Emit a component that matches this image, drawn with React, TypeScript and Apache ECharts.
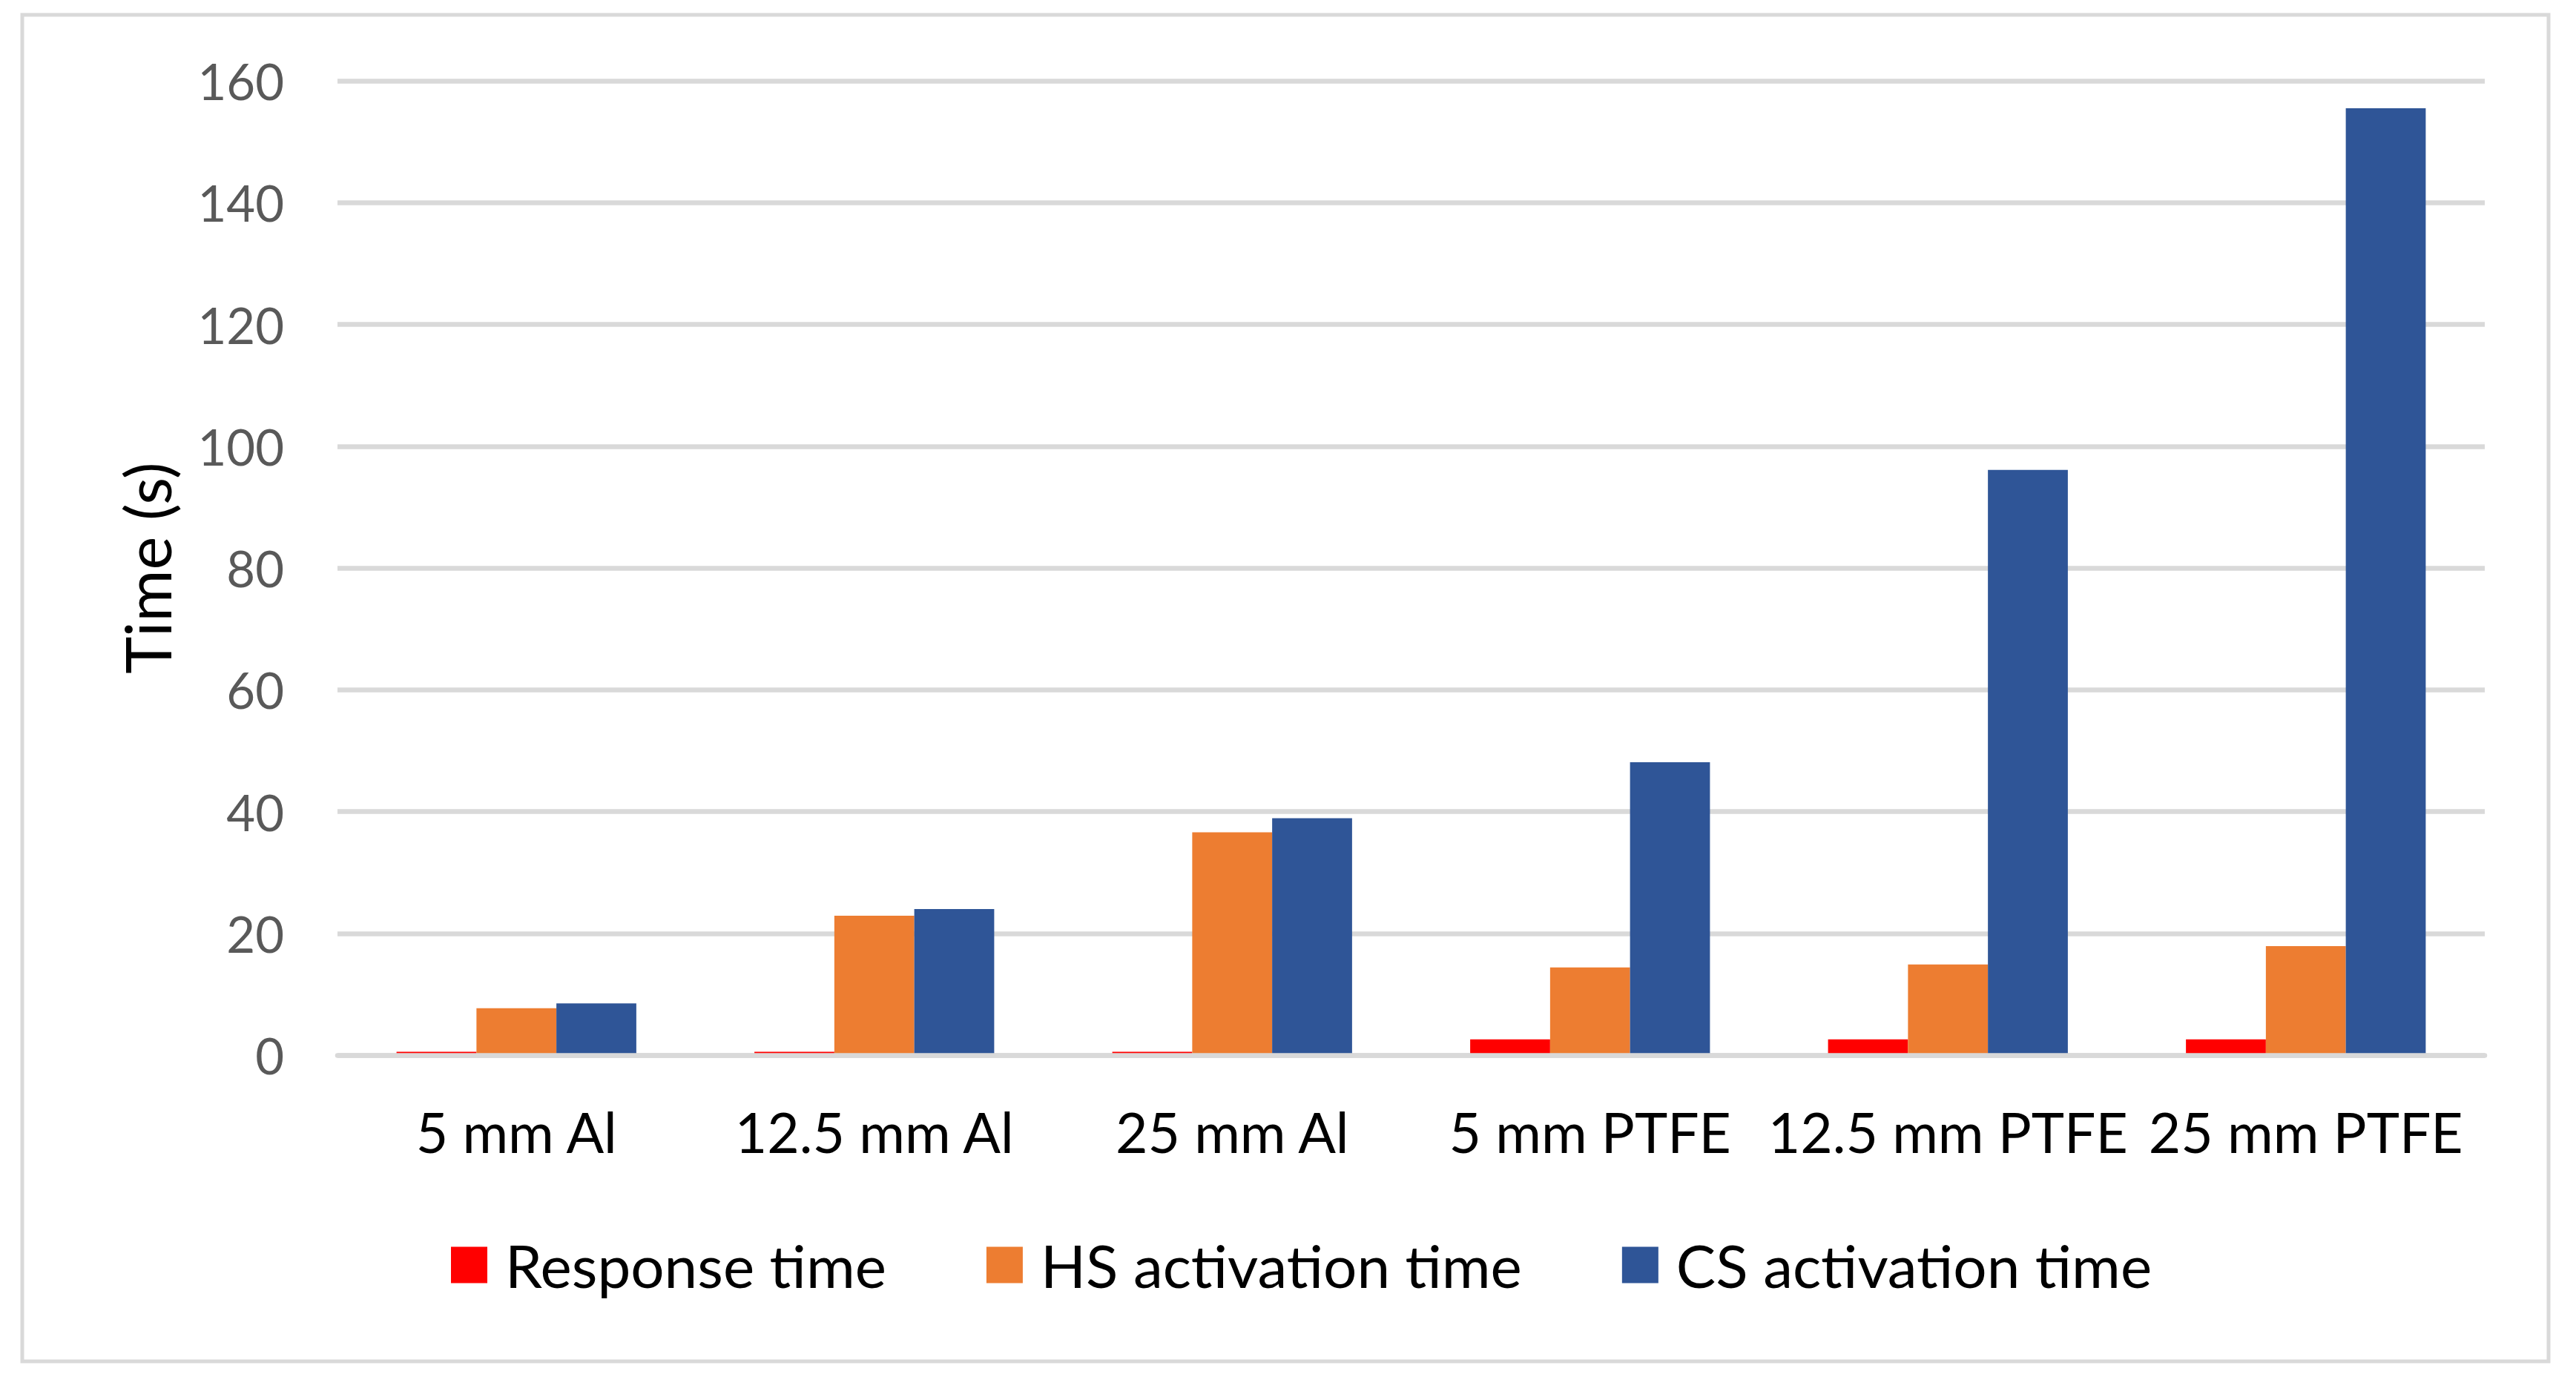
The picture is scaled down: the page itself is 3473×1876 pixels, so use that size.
import React, { useEffect, useRef } from "react";
import * as echarts from "echarts";

const categories = ["5 mm Al", "12.5 mm Al", "25 mm Al", "5 mm PTFE", "12.5 mm PTFE", "25 mm PTFE"];
const responseTime = [0.55, 0.55, 0.55, 2.6, 2.6, 2.6];
const hsActivation = [7.7, 22.9, 36.6, 14.4, 14.9, 17.9];
const csActivation = [8.5, 24.0, 38.9, 48.1, 96.1, 155.5];
const seriesNames = ["Response time", "HS activation time", "CS activation time"];
const yTicks = { min: 0, max: 160, interval: 20 };

const FONT = "Lato, 'Noto Sans', sans-serif";

export default function App() {
  const ref = useRef<HTMLDivElement>(null);
  useEffect(() => {
    if (!ref.current) return;
    const chart = echarts.init(ref.current, undefined, { renderer: "svg" });
    chart.setOption({
      animation: false,
      backgroundColor: "#ffffff",
      textStyle: { fontFamily: FONT },
      graphic: [
        {
          type: "rect",
          shape: { x: 30, y: 20, width: 3406, height: 1816 },
          style: { fill: "none", stroke: "#d9d9d9", lineWidth: 5 },
          silent: true,
        },
      ],
      grid: { left: 455, right: 123, top: 109, bottom: 453, containLabel: false },
      legend: {
        left: 603,
        top: 1661,
        itemWidth: 49,
        itemHeight: 49,
        itemGap: 135,
        icon: "rect",
        textStyle: { fontSize: 80, color: "#000000", fontFamily: FONT, padding: [0, 0, 0, 19] },
        data: seriesNames,
      },
      xAxis: {
        type: "category",
        data: categories,
        z: 3,
        axisLine: { show: true, lineStyle: { color: "#d9d9d9", width: 6.5 } },
        axisTick: { show: false },
        axisLabel: { color: "#000000", fontSize: 75, margin: 65, fontFamily: FONT, interval: 0 },
      },
      yAxis: {
        type: "value",
        min: yTicks.min,
        max: yTicks.max,
        interval: yTicks.interval,
        name: "Time (s)",
        nameLocation: "middle",
        nameRotate: 90,
        nameGap: 215,
        nameTextStyle: { fontSize: 85, color: "#000000", fontFamily: FONT },
        axisLine: { show: false },
        axisTick: { show: false },
        axisLabel: { color: "#595959", fontSize: 67, margin: 72, fontFamily: FONT },
        splitLine: { show: true, lineStyle: { color: "#d9d9d9", width: 6.5 } },
      },
      series: [
        {
          name: seriesNames[0],
          type: "bar",
          data: responseTime,
          itemStyle: { color: "#ff0000" },
          barGap: "0%",
          barCategoryGap: "33%",
        },
        {
          name: seriesNames[1],
          type: "bar",
          data: hsActivation,
          itemStyle: { color: "#ed7d31" },
          barGap: "0%",
          barCategoryGap: "33%",
        },
        {
          name: seriesNames[2],
          type: "bar",
          data: csActivation,
          itemStyle: { color: "#2f5597" },
          barGap: "0%",
          barCategoryGap: "33%",
        },
      ],
    });
    return () => chart.dispose();
  }, []);
  return (
    <div
      ref={ref}
      style={{ position: "fixed", left: 0, top: 0, width: 3473, height: 1876, background: "#fff" }}
    />
  );
}
